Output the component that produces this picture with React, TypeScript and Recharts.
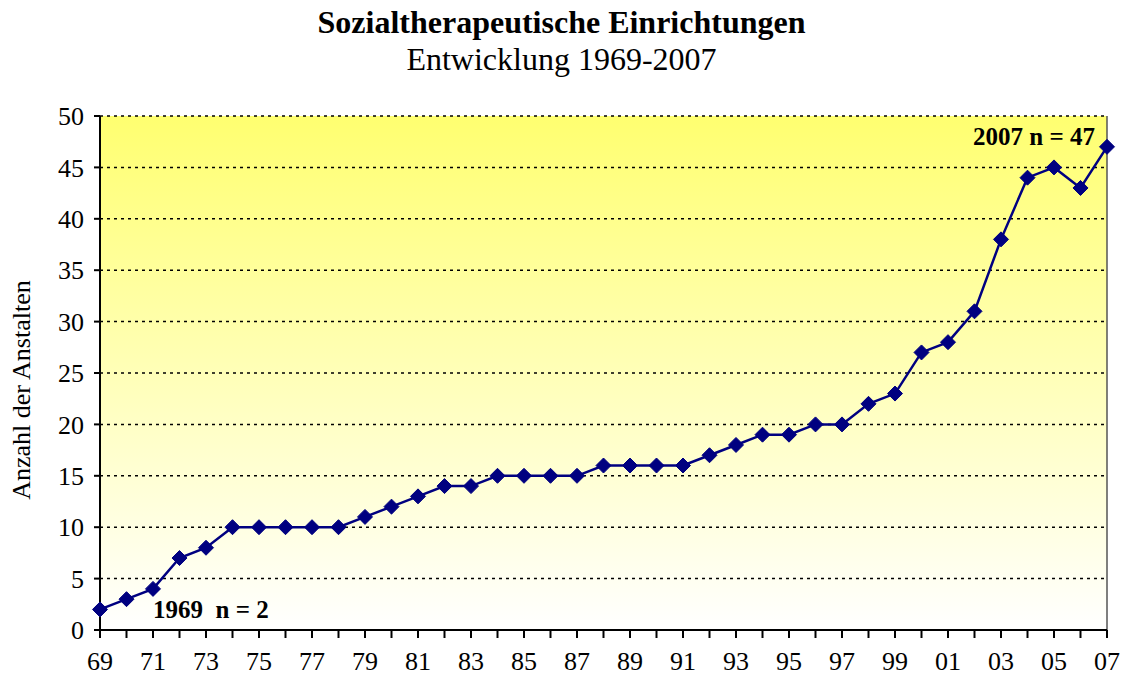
import React from 'react';
import {
    LineChart,
    Line,
    XAxis,
    YAxis,
    CartesianGrid,
    ReferenceDot,
    ReferenceLine,
    Label
} from 'recharts';

const years = [
    '69', '70', '71', '72', '73', '74', '75', '76', '77', '78',
    '79', '80', '81', '82', '83', '84', '85', '86', '87', '88',
    '89', '90', '91', '92', '93', '94', '95', '96', '97', '98',
    '99', '00', '01', '02', '03', '04', '05', '06', '07'
];

const anstalten = [
    2, 3, 4, 7, 8, 10, 10, 10, 10, 10,
    11, 12, 13, 14, 14, 15, 15, 15, 15, 16,
    16, 16, 16, 17, 18, 19, 19, 20, 20, 22,
    23, 27, 28, 31, 38, 44, 45, 43, 47
];

const yTicks = [0, 5, 10, 15, 20, 25, 30, 35, 40, 45, 50];

const data = years.map((year, i) => ({ year, value: anstalten[i] }));

const serif = '"Liberation Serif", "Times New Roman", serif';

const Diamond = (props: any) => {
    const { cx, cy, index } = props;
    const s = 7.5;
    return (
        <path
            key={`d-${index}`}
            d={`M${cx},${cy - s} L${cx + s},${cy} L${cx},${cy + s} L${cx - s},${cy} Z`}
            fill="#000080"
            stroke="#000080"
        />
    );
};

export default function App() {
    return (
        <div style={{ position: 'absolute', left: 0, top: 0, width: 1123, height: 678, background: '#fff', fontFamily: serif }}>
            <div style={{ position: 'absolute', top: 3, left: 0, width: 1123, textAlign: 'center', fontSize: 32, fontWeight: 'bold', lineHeight: '38px' }}>
                Sozialtherapeutische Einrichtungen
            </div>
            <div style={{ position: 'absolute', top: 40, left: 0, width: 1123, textAlign: 'center', fontSize: 32, lineHeight: '38px' }}>
                Entwicklung 1969-2007
            </div>
            <div style={{ position: 'absolute', left: 0, top: 0 }}>
                <LineChart width={1123} height={678} data={data} margin={{ top: 116, right: 16, bottom: 0, left: 0 }}>
                    <defs>
                        <linearGradient id="bg" x1="0" y1="0" x2="0" y2="1">
                            <stop offset="0%" stopColor="#FFFF70" />
                            <stop offset="100%" stopColor="#FFFFFF" />
                        </linearGradient>
                    </defs>
                    <CartesianGrid
                        vertical={false}
                        stroke="#000"
                        strokeDasharray="3 4"
                        strokeWidth={1.5}
                        fill="url(#bg)"
                        fillOpacity={1}
                    />
                    <XAxis
                        dataKey="year"
                        interval={0}
                        tickFormatter={(v: string, i: number) => (i % 2 === 0 ? v : '')}
                        stroke="#000"
                        strokeWidth={2}
                        tickSize={8}
                        tickMargin={14}
                        height={48}
                        tick={{ fill: '#000', fontSize: 26, fontFamily: serif }}
                    />
                    <YAxis
                        domain={[0, 50]}
                        ticks={yTicks}
                        interval={0}
                        width={100}
                        stroke="#000"
                        strokeWidth={2}
                        tickSize={6}
                        tickMargin={10}
                        tick={{ fill: '#000', fontSize: 26, fontFamily: serif }}
                    >
                        <Label
                            content={() => (
                                <text
                                    transform="translate(30,390) rotate(-90)"
                                    textAnchor="middle"
                                    fill="#000"
                                    fontSize={26}
                                    fontFamily={serif}
                                >
                                    Anzahl der Anstalten
                                </text>
                            )}
                        />
                    </YAxis>
                    <ReferenceLine x="07" stroke="#555" strokeWidth={1.5} />
                    <Line
                        type="linear"
                        dataKey="value"
                        stroke="#000080"
                        strokeWidth={2.5}
                        dot={Diamond}
                        activeDot={false}
                        isAnimationActive={false}
                    />
                    <ReferenceDot
                        x="71"
                        y={2}
                        r={0}
                        label={{ value: '1969\u00a0 n = 2', position: 'right', offset: 0, fill: '#000', fontSize: 25, fontWeight: 'bold', fontFamily: serif }}
                    />
                    <ReferenceDot
                        x="07"
                        y={48}
                        r={0}
                        label={{ value: '2007 n = 47', position: 'left', offset: 12, fill: '#000', fontSize: 25, fontWeight: 'bold', fontFamily: serif }}
                    />
                </LineChart>
            </div>
        </div>
    );
}
